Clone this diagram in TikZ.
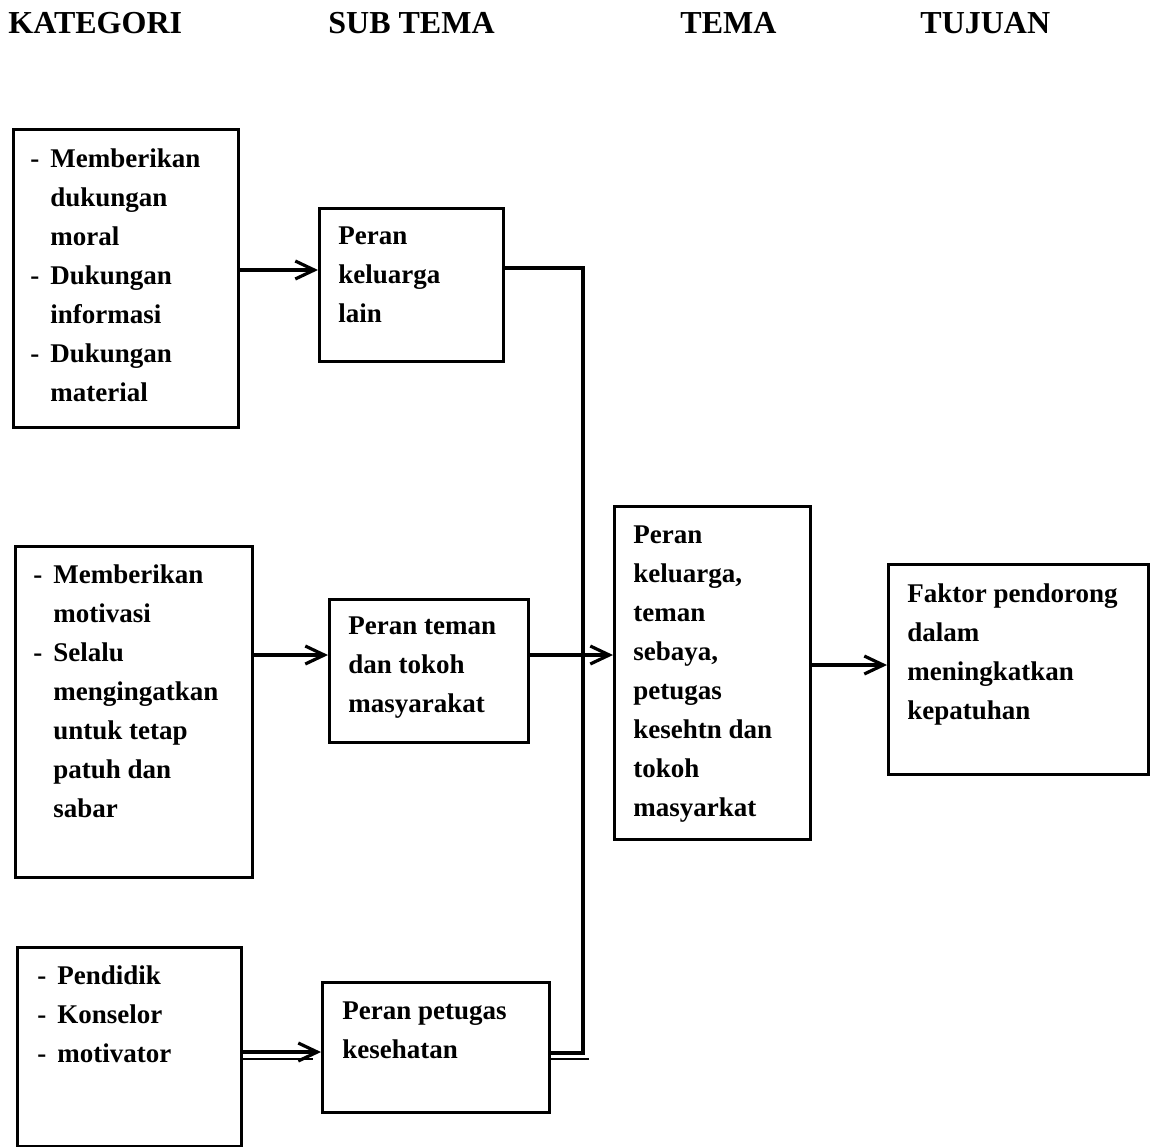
\documentclass[tikz,border=0pt]{standalone}
\usepackage{fontspec}
\setmainfont{Liberation Serif}
\usetikzlibrary{arrows.meta}
\newcommand\dashitem{\makebox[10pt][l]{-}}
\newcommand\contline{\hspace*{10pt}}
\tikzset{
  box/.style={draw, line width=1.3pt, rectangle, inner sep=0pt, anchor=north west},
  txt/.style={anchor=north west, inner sep=0pt, align=left,
    font=\bfseries\fontsize{13.5pt}{19.5pt}\selectfont},
  head/.style={anchor=north west, inner sep=0pt,
    font=\bfseries\fontsize{16pt}{19pt}\selectfont},
  conn/.style={line width=1.6pt},
  thin/.style={line width=0.6pt},
  arr/.style={conn, -{Straight Barb[length=9.5pt,width=9pt,line width=1.6pt]}}
}
\begin{document}
\begin{tikzpicture}[x=0.5pt, y=-0.5pt]
\useasboundingbox (0,0) rectangle (1150,1146);

% column headings
\node[head] (hk) at (8,12)   {KATEGORI};
\node[head] (hs) at (328,12) {SUB TEMA};
\node[head] (ht) at (680,12) {TEMA};
\node[head] (hu) at (920,12) {TUJUAN};

% category boxes
\node[box, minimum width=112.5pt, minimum height=149pt]  (k1) at (12,128) {};
\node[box, minimum width=118.5pt, minimum height=165.5pt] (k2) at (14,545) {};
\node[box, minimum width=112pt,   minimum height=99.5pt] (k3) at (16,946) {};

\node[txt] (k1t) at (30,148) {\dashitem Memberikan\\ \contline dukungan\\ \contline moral\\
  \dashitem Dukungan\\ \contline informasi\\ \dashitem Dukungan\\ \contline material};
\node[txt] (k2t) at (33,564) {\dashitem Memberikan\\ \contline motivasi\\ \dashitem Selalu\\
  \contline mengingatkan\\ \contline untuk tetap\\ \contline patuh dan\\ \contline sabar};
\node[txt] (k3t) at (37,965) {\dashitem Pendidik\\ \dashitem Konselor\\ \dashitem motivator};

% sub-theme boxes
\node[box, minimum width=92pt,    minimum height=76.5pt] (s1) at (318,207) {};
\node[box, minimum width=99.5pt,  minimum height=71.5pt] (s2) at (328,598) {};
\node[box, minimum width=113.5pt, minimum height=65pt]   (s3) at (321,981) {};

\node[txt] (s1t) at (338,226)  {Peran\\ keluarga\\ lain};
\node[txt] (s2t) at (348,616)  {Peran teman\\ dan tokoh\\ masyarakat};
\node[txt] (s3t) at (342,1001) {Peran petugas\\ kesehatan};

% theme box
\node[box, minimum width=98pt, minimum height=166.5pt] (t) at (613,505) {};
\node[txt] (tt) at (633,525) {Peran\\ keluarga,\\ teman\\ sebaya,\\ petugas\\
  kesehtn dan\\ tokoh\\ masyarkat};

% goal box
\node[box, minimum width=130pt, minimum height=105pt] (u) at (887,563) {};
\node[txt] (ut) at (907,583) {Faktor pendorong\\ dalam\\ meningkatkan\\ kepatuhan};

% collecting line on the right of the sub-themes
\coordinate (jtop) at (583,268);
\coordinate (jbot) at (583,1053);

% connectors
\draw[arr] (k1.east |- 0,270) -- (s1.west |- 0,270);
\draw[arr] (k2.east |- 0,655) -- (s2.west |- 0,655);
\draw[arr] (k3.east |- 0,1052) -- (s3.west |- 0,1052);
\draw[thin] (k3.east |- 0,1059) -- ([xshift=-4pt]s3.west |- 0,1059);

\draw[conn] (s1.east |- jtop) -- (jtop) -- (jbot) -- (s3.east |- jbot);
\draw[thin] (s3.east |- 0,1059) -- ([xshift=3pt]jbot |- 0,1059);

\draw[arr] (s2.east |- 0,655) -- (t.west |- 0,655);
\draw[arr] (t.east |- 0,665) -- (u.west |- 0,665);
\end{tikzpicture}
\end{document}
